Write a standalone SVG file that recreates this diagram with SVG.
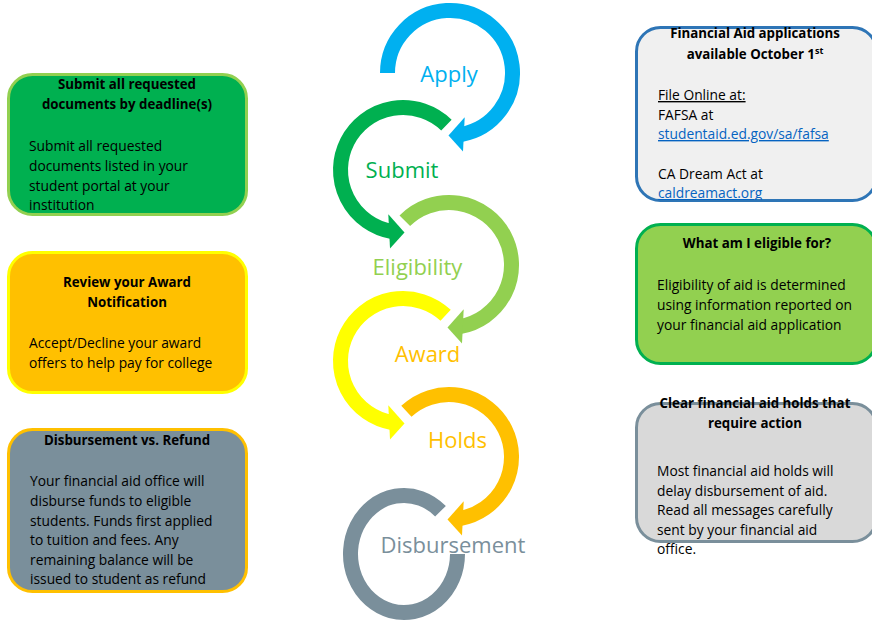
<svg xmlns="http://www.w3.org/2000/svg" width="872" height="622" viewBox="0 0 872 622">
<style>
.t{font-family:"Open Sans","Liberation Sans",sans-serif;font-size:13.3px;font-weight:bold;fill:#000;text-anchor:middle}
.b{font-family:"Open Sans","Liberation Sans",sans-serif;font-size:13.8px;fill:#000}
.lbl{font-family:"Open Sans","Liberation Sans",sans-serif;font-size:22px;text-anchor:middle}
.box{stroke-width:3}
.ring{fill:none;stroke-width:15}
.link{fill:#0563C1;text-decoration:underline}
</style>
<defs>
<clipPath id="c1"><rect x="636" y="27" width="240" height="173" rx="24"/></clipPath>
</defs>
<rect width="872" height="622" fill="#fff"/>

<g id="connectors">
<g transform="translate(450,73)"><path class="ring" stroke="#00B0F0" d="M-62.5,0 A62.5,62.5 0 1 1 10.85,61.55"/><polygon fill="#00B0F0" points="-1.5,62.5 14.7,44.3 13,78.5"/></g>
<g transform="translate(403,170) scale(-1,1)"><path class="ring" stroke="#00B050" d="M-43.42,-44.96 A62.5,62.5 0 1 1 10.85,61.55"/><polygon fill="#00B050" points="-1.5,62.5 14.7,44.3 13,78.5"/></g>
<g transform="translate(449,265)"><path class="ring" stroke="#92D050" d="M-44.19,-44.19 A62.5,62.5 0 1 1 10.85,61.55"/><polygon fill="#92D050" points="-1.5,62.5 14.7,44.3 13,78.5"/></g>
<g transform="translate(403,361) scale(-1,1)"><path class="ring" stroke="#FFFF00" d="M-42.62,-45.71 A62.5,62.5 0 1 1 10.85,61.55"/><polygon fill="#FFFF00" points="-1.5,62.5 14.7,44.3 13,78.5"/></g>
<g transform="translate(449,457)"><path class="ring" stroke="#FFC000" d="M-42.62,-45.71 A62.5,62.5 0 1 1 10.85,61.55"/><polygon fill="#FFC000" points="-1.5,62.5 14.7,44.3 13,78.5"/></g>
<path class="ring" stroke="#7A8F9B" d="M457.5,554 A53.5,58.5 0 1 1 440.49,511.21"/>
</g>

<g id="step-apply"><text class="lbl" x="449" y="82" fill="#00B0F0">Apply</text></g>
<g id="step-submit"><text class="lbl" x="402" y="178" fill="#00B050">Submit</text></g>
<g id="step-eligibility"><text class="lbl" x="417.5" y="275" fill="#92D050">Eligibility</text></g>
<g id="step-award"><text class="lbl" x="427.5" y="362" fill="#FFC000">Award</text></g>
<g id="step-holds"><text class="lbl" x="457.5" y="448" fill="#FFC000">Holds</text></g>
<g id="step-disbursement"><text class="lbl" x="453" y="553" fill="#7A8F9B">Disbursement</text></g>

<g id="box-submit">
<rect class="box" x="8.5" y="74.5" width="238" height="140" rx="24" fill="#00B050" stroke="#92D050"/>
<text class="t" x="127" y="89">Submit all requested</text>
<text class="t" x="127" y="109">documents by deadline(s)</text>
<text class="b" x="29" y="151">Submit all requested</text>
<text class="b" x="29" y="171">documents listed in your</text>
<text class="b" x="29" y="191">student portal at your</text>
<text class="b" x="29" y="210">institution</text>
</g>

<g id="box-award">
<rect class="box" x="8.5" y="252.5" width="238" height="140" rx="24" fill="#FFC000" stroke="#FFFF00"/>
<text class="t" x="127" y="287">Review your Award</text>
<text class="t" x="127" y="307">Notification</text>
<text class="b" x="29" y="348">Accept/Decline your award</text>
<text class="b" x="29" y="368">offers to help pay for college</text>
</g>

<g id="box-disbursement">
<rect class="box" x="8.5" y="429.5" width="238" height="162" rx="24" fill="#7A8F9B" stroke="#FFC000"/>
<text class="t" x="127" y="445">Disbursement vs. Refund</text>
<text class="b" x="30" y="486">Your financial aid office will</text>
<text class="b" x="30" y="506">disburse funds to eligible</text>
<text class="b" x="30" y="526">students. Funds first applied</text>
<text class="b" x="30" y="545">to tuition and fees. Any</text>
<text class="b" x="30" y="565">remaining balance will be</text>
<text class="b" x="30" y="584">issued to student as refund</text>
</g>

<g id="box-apply">
<rect class="box" x="636.5" y="27.5" width="240" height="173" rx="24" fill="#F0F0F0" stroke="#2E75B6"/>
<g clip-path="url(#c1)">
<text class="t" x="755" y="38">Financial Aid applications</text>
<text class="t" x="755" y="59">available October 1<tspan font-size="9" dy="-5">st</tspan></text>
<text class="b" x="658" y="100" text-decoration="underline">File Online at:</text>
<text class="b" x="658" y="120">FAFSA at</text>
<text class="b link" x="658" y="139">studentaid.ed.gov/sa/fafsa</text>
<text class="b" x="658" y="179">CA Dream Act at</text>
<text class="b link" x="658" y="198">caldreamact.org</text>
</g>
</g>

<g id="box-eligibility">
<rect class="box" x="636.5" y="224.5" width="240" height="139" rx="24" fill="#92D050" stroke="#00B050"/>
<text class="t" x="757" y="248">What am I eligible for?</text>
<text class="b" x="657" y="290">Eligibility of aid is determined</text>
<text class="b" x="657" y="310">using information reported on</text>
<text class="b" x="657" y="330">your financial aid application</text>
</g>

<g id="box-holds">
<rect class="box" x="636.5" y="403.5" width="240" height="138" rx="24" fill="#D9D9D9" stroke="#7A8F9B"/>
<text class="t" x="755" y="408">Clear financial aid holds that</text>
<text class="t" x="755" y="428">require action</text>
<text class="b" x="657" y="476">Most financial aid holds will</text>
<text class="b" x="657" y="495.5">delay disbursement of aid.</text>
<text class="b" x="657" y="515">Read all messages carefully</text>
<text class="b" x="657" y="534.5">sent by your financial aid</text>
<text class="b" x="657" y="554">office.</text>
</g>
</svg>
